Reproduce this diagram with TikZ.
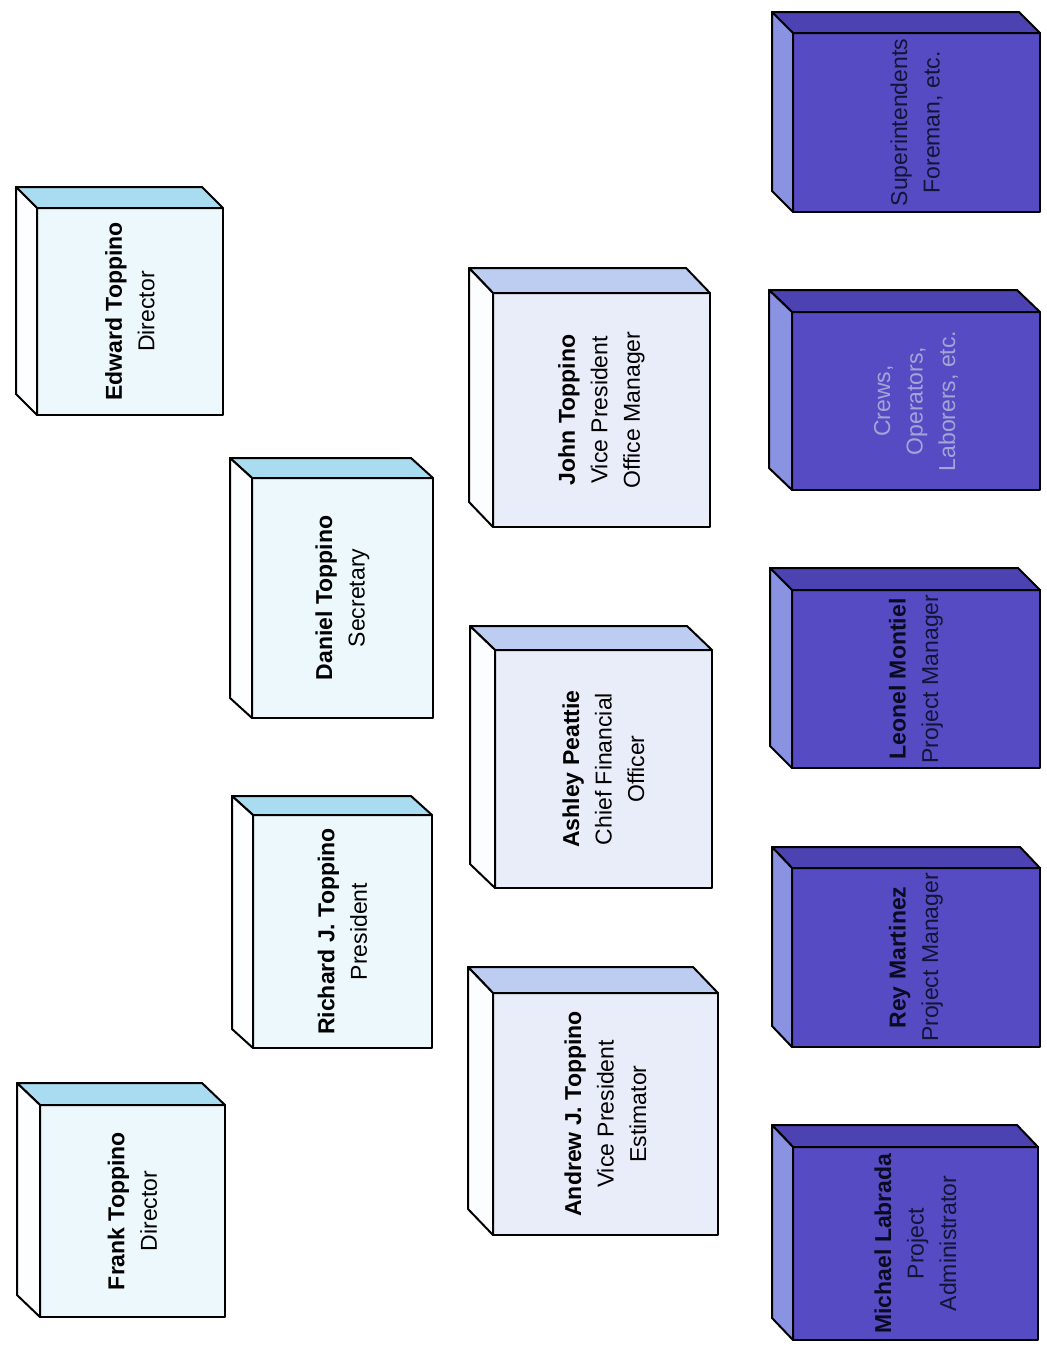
\documentclass[tikz,border=0pt]{standalone}
\usepackage{fontspec}
\setmainfont{Liberation Sans}
\usetikzlibrary{calc}
\definecolor{lbfront}{HTML}{EDF8FC}
\definecolor{lbtop}{HTML}{A9DBF1}
\definecolor{lbside}{HTML}{FCFEFF}
\definecolor{vpfront}{HTML}{E9EDF9}
\definecolor{vptop}{HTML}{BDCDF1}
\definecolor{vpside}{HTML}{FCFDFF}
\definecolor{pufront}{HTML}{574BC4}
\definecolor{putop}{HTML}{4C42B2}
\definecolor{puside}{HTML}{8A92E2}
\definecolor{puname}{HTML}{0A0A20}
\definecolor{purole}{HTML}{141436}
\definecolor{pulight}{HTML}{A2A6D6}
\tikzset{
  edge/.style={draw=black, line width=2pt, line join=round},
  frontface/.style={edge, inner sep=0pt, outer sep=0pt},
  txt/.style={rotate=90, align=center, inner sep=0pt, font=\fontsize{23}{32.5}\selectfont},
}
% #1 name, #2 x1, #3 y1, #4 x2, #5 y2, #6 depth x, #7 depth y, #8 palette
\newcommand\mkcube[8]{%
  \node[frontface, fill=#8front, minimum width={(#4-#2)*1pt}, minimum height={(#5-#3)*1pt}]
    (#1) at ({(#2+#4)/2},{(#3+#5)/2}) {};
  \draw[edge, fill=#8top] (#1.north west) -- ++(-#6,-#7)
     -- ($(#1.north east)+(-#6,-#7)$) -- (#1.north east) -- cycle;
  \draw[edge, fill=#8side] (#1.north west) -- ++(-#6,-#7)
     -- ($(#1.south west)+(-#6,-#7)$) -- (#1.south west) -- cycle;
}
\begin{document}
\begin{tikzpicture}[x=1pt,y=-1pt]
\useasboundingbox[fill=white] (0,0) rectangle (1047,1353);

% light-blue boxes
\mkcube{edward}{37}{208}{223}{415}{21}{21}{lb}
\mkcube{daniel}{252}{478}{433}{718}{22}{20}{lb}
\mkcube{richard}{253}{815}{432}{1048}{21}{19}{lb}
\mkcube{frank}{40}{1105}{225}{1317}{23}{22}{lb}
% vice presidents
\mkcube{john}{493}{293}{710}{527}{24}{25}{vp}
\mkcube{ashley}{495}{650}{712}{888}{25}{24}{vp}
\mkcube{andrew}{493}{993}{718}{1235}{25}{26}{vp}
% purple boxes
\mkcube{super}{793}{33}{1040}{212}{21}{21}{pu}
\mkcube{crews}{792}{312}{1040}{490}{23}{22}{pu}
\mkcube{leonel}{792}{590}{1040}{768}{22}{22}{pu}
\mkcube{rey}{792}{868}{1040}{1047}{20}{21}{pu}
\mkcube{michael}{793}{1147}{1038}{1340}{21}{22}{pu}

% texts
\node[txt] (edward-t) at (edward) {\textbf{Edward Toppino}\\Director};
\node[txt] (daniel-t) at (daniel) {\textbf{Daniel Toppino}\\Secretary};
\node[txt] (richard-t) at (richard) {\textbf{Richard J. Toppino}\\President};
\node[txt] (frank-t) at (frank) {\textbf{Frank Toppino}\\Director};
\node[txt] (john-t) at (john) {\textbf{John Toppino}\\Vice President\\Office Manager};
\node[txt] (ashley-t) at (ashley) {\textbf{Ashley Peattie}\\Chief Financial\\Officer};
\node[txt] (andrew-t) at (andrew) {\textbf{Andrew J. Toppino}\\Vice President\\Estimator};
\node[txt, text=purole] (super-t) at (super) {Superintendents\\Foreman, etc.};
\node[txt, text=pulight] (crews-t) at (crews) {Crews,\\Operators,\\Laborers, etc.};
\node[txt, text=purole] (leonel-t) at (leonel) {\textcolor{puname}{\textbf{Leonel Montiel}}\\Project Manager};
\node[txt, text=purole] (rey-t) at (rey) {\textcolor{puname}{\textbf{Rey Martinez}}\\Project Manager};
\node[txt, text=purole] (michael-t) at (michael) {\textcolor{puname}{\textbf{Michael Labrada}}\\Project\\Administrator};
\end{tikzpicture}
\end{document}
